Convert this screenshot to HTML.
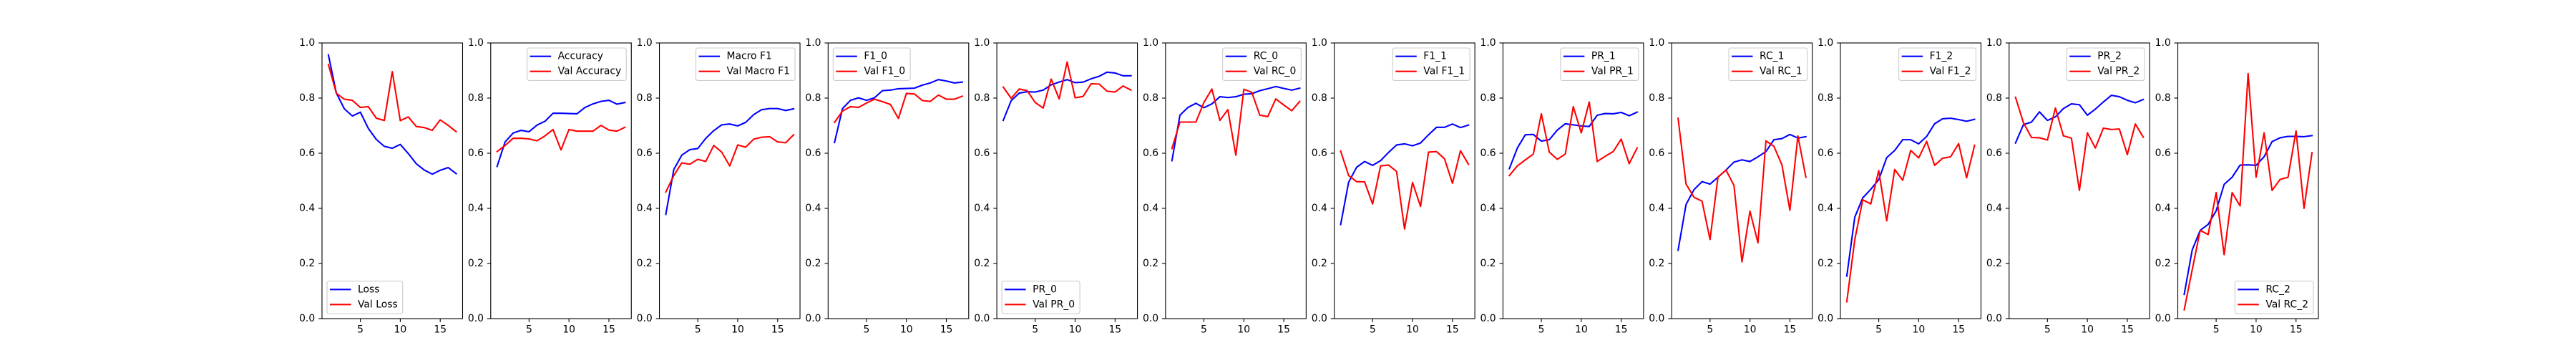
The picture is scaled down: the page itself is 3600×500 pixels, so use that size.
<!DOCTYPE html>
<html><head><meta charset="utf-8"><style>
html,body{margin:0;padding:0;background:#fff;}
svg{display:block;font-family:"DejaVu Sans","Liberation Sans",sans-serif;}
</style></head><body>
<svg id="fig" width="3600" height="500" viewBox="0 0 3600 500" xmlns="http://www.w3.org/2000/svg"></svg>
<script>
const epochs = [1,2,3,4,5,6,7,8,9,10,11,12,13,14,15,16,17];
const yTicks = [0, 0.2, 0.4, 0.6, 0.8, 1.0];
const yTickLabels = ["0.0","0.2","0.4","0.6","0.8","1.0"];
const xTicks = [5, 10, 15];
const xTickLabels = ["5","10","15"];

const panelNames = ["Loss","Accuracy","Macro F1","F1_0","PR_0","RC_0","F1_1","PR_1","RC_1","F1_2","PR_2","RC_2"];
const legendLocs = ["lower left","upper right","upper right","upper left","lower left","upper right","upper right","upper right","upper right","upper right","upper right","lower right"];

const trainLoss = [0.957,0.818,0.761,0.735,0.749,0.690,0.650,0.625,0.618,0.632,0.599,0.562,0.539,0.524,0.538,0.548,0.526];
const valLoss = [0.922,0.817,0.796,0.792,0.766,0.769,0.727,0.719,0.896,0.718,0.732,0.697,0.693,0.683,0.721,0.701,0.678];
const trainAcc = [0.552,0.641,0.673,0.683,0.678,0.702,0.716,0.745,0.745,0.744,0.743,0.766,0.779,0.788,0.792,0.778,0.784];
const valAcc = [0.606,0.628,0.654,0.654,0.652,0.645,0.663,0.686,0.612,0.686,0.680,0.680,0.680,0.701,0.684,0.680,0.694];
const trainMacroF1 = [0.378,0.541,0.593,0.613,0.617,0.654,0.682,0.703,0.706,0.699,0.712,0.740,0.758,0.762,0.762,0.755,0.761];
const valMacroF1 = [0.459,0.519,0.565,0.560,0.578,0.570,0.628,0.604,0.554,0.630,0.622,0.651,0.658,0.660,0.641,0.638,0.667];
const trainF1_0 = [0.639,0.762,0.792,0.801,0.792,0.801,0.827,0.829,0.834,0.835,0.836,0.847,0.855,0.867,0.862,0.855,0.858];
const valF1_0 = [0.712,0.753,0.769,0.766,0.782,0.796,0.787,0.777,0.726,0.817,0.815,0.791,0.788,0.811,0.796,0.796,0.807];
const trainPR_0 = [0.719,0.791,0.818,0.823,0.822,0.829,0.848,0.858,0.867,0.856,0.858,0.870,0.879,0.894,0.891,0.881,0.881];
const valPR_0 = [0.840,0.799,0.833,0.827,0.784,0.764,0.869,0.797,0.931,0.801,0.806,0.852,0.851,0.825,0.822,0.844,0.829];
const trainRC_0 = [0.573,0.738,0.766,0.781,0.765,0.779,0.805,0.802,0.805,0.814,0.816,0.827,0.834,0.842,0.835,0.829,0.836];
const valRC_0 = [0.617,0.713,0.713,0.713,0.784,0.833,0.719,0.758,0.593,0.832,0.821,0.738,0.733,0.797,0.775,0.754,0.788];
const trainF1_1 = [0.341,0.495,0.549,0.570,0.556,0.573,0.603,0.630,0.634,0.627,0.637,0.667,0.694,0.694,0.706,0.693,0.702];
const valF1_1 = [0.608,0.519,0.497,0.496,0.416,0.554,0.557,0.534,0.325,0.494,0.407,0.604,0.606,0.580,0.491,0.609,0.560];
const trainPR_1 = [0.544,0.619,0.667,0.668,0.644,0.649,0.684,0.707,0.703,0.699,0.697,0.738,0.744,0.743,0.748,0.736,0.749];
const valPR_1 = [0.519,0.554,0.576,0.597,0.743,0.604,0.578,0.597,0.769,0.674,0.786,0.570,0.589,0.606,0.651,0.562,0.619];
const trainRC_1 = [0.248,0.414,0.468,0.497,0.488,0.513,0.539,0.568,0.576,0.570,0.587,0.606,0.649,0.653,0.668,0.655,0.660];
const valRC_1 = [0.727,0.488,0.440,0.426,0.287,0.514,0.539,0.483,0.206,0.390,0.275,0.645,0.625,0.558,0.393,0.663,0.513];
const trainF1_2 = [0.154,0.368,0.438,0.469,0.504,0.584,0.610,0.649,0.649,0.634,0.661,0.707,0.725,0.727,0.722,0.716,0.723];
const valF1_2 = [0.061,0.286,0.431,0.416,0.537,0.355,0.541,0.502,0.610,0.583,0.643,0.556,0.582,0.587,0.635,0.511,0.629];
const trainPR_2 = [0.637,0.704,0.713,0.750,0.719,0.732,0.762,0.779,0.776,0.738,0.760,0.786,0.810,0.805,0.792,0.783,0.795];
const valPR_2 = [0.803,0.710,0.657,0.656,0.648,0.764,0.663,0.655,0.465,0.674,0.619,0.691,0.686,0.688,0.595,0.706,0.658];
const trainRC_2 = [0.088,0.249,0.320,0.342,0.391,0.487,0.513,0.557,0.558,0.556,0.587,0.642,0.656,0.661,0.661,0.660,0.664];
const valRC_2 = [0.032,0.177,0.320,0.305,0.457,0.232,0.457,0.409,0.889,0.513,0.674,0.465,0.505,0.513,0.681,0.400,0.602];

const trainSeries = [trainLoss,trainAcc,trainMacroF1,trainF1_0,trainPR_0,trainRC_0,trainF1_1,trainPR_1,trainRC_1,trainF1_2,trainPR_2,trainRC_2];
const valSeries = [valLoss,valAcc,valMacroF1,valF1_0,valPR_0,valRC_0,valF1_1,valPR_1,valRC_1,valF1_2,valPR_2,valRC_2];

const NS = "http://www.w3.org/2000/svg";
const svg = document.getElementById("fig");
const AX_L0 = 450, AX_PITCH = 235.775, AX_W = 196.48, AX_T = 60, AX_B = 445;
const XMIN = 0.2, XMAX = 17.8, YMIN = 0, YMAX = 1;
const FS = 13.9;

function mk(tag, attrs, parent){
  const e = document.createElementNS(NS, tag);
  for (const k in attrs) e.setAttribute(k, attrs[k]);
  (parent||svg).appendChild(e);
  return e;
}
function slug(s){ return s.toLowerCase().replace(/[^a-z0-9]+/g,'-').replace(/-$/,''); }

panelNames.forEach((name, i) => {
  const left = AX_L0 + i*AX_PITCH;
  const xs = v => left + (v - XMIN)/(XMAX - XMIN)*AX_W;
  const ys = v => AX_B - (v - YMIN)/(YMAX - YMIN)*(AX_B - AX_T);
  const g = mk("g", {});
  
  

  // y ticks
  yTicks.forEach((t, j) => {
    const y = ys(t);
    const tk = mk("line", {x1:left-4.9, x2:left, y1:y, y2:y, stroke:"#000", "stroke-width":1.1}, g);
    
    
    const tx = mk("text", {x:left-9.8, y:y, "font-size":FS, "text-anchor":"end", "dominant-baseline":"central", fill:"#000"}, g);
    tx.textContent = yTickLabels[j];
    
    
  });
  // x ticks
  xTicks.forEach((t, j) => {
    const x = xs(t);
    const tk = mk("line", {x1:x, x2:x, y1:AX_B, y2:AX_B+4.9, stroke:"#000", "stroke-width":1.1}, g);
    
    
    const tx = mk("text", {x:x, y:AX_B+9.8, "font-size":FS, "text-anchor":"middle", "dominant-baseline":"hanging", fill:"#000"}, g);
    tx.textContent = xTickLabels[j];
    
    
  });

  // lines
  const mkPath = arr => arr.map((v,k)=>(k?"L":"M")+xs(epochs[k]).toFixed(2)+","+ys(v).toFixed(2)).join("");
  const lt = mk("path", {d:mkPath(trainSeries[i]), fill:"none", stroke:"#0000ff", "stroke-width":2.08, "stroke-linejoin":"round", "stroke-linecap":"square"}, g);
  
  
  const lv = mk("path", {d:mkPath(valSeries[i]), fill:"none", stroke:"#ff0000", "stroke-width":2.08, "stroke-linejoin":"round", "stroke-linecap":"square"}, g);
  
  

  // spines
  const fr = mk("rect", {x:left, y:AX_T, width:AX_W, height:AX_B-AX_T, fill:"none", stroke:"#000", "stroke-width":1.1}, g);
  
  

  // legend
  const lg = mk("g", {}, g);
  
  
  const box = mk("rect", {rx:2.8, ry:2.8, fill:"#fff", "fill-opacity":0.8, stroke:"#cccccc", "stroke-width":1.1}, lg);
  
  
  const labels = [name, "Val " + name];
  const colors = ["#0000ff", "#ff0000"];
  const texts = [], handles = [];
  labels.forEach((lab, k) => {
    const h = mk("line", {stroke:colors[k], "stroke-width":2.08}, lg);
    
    
    const t = mk("text", {"font-size":FS, "dominant-baseline":"central", fill:"#000"}, lg);
    t.textContent = lab;
    
    
    handles.push(h); texts.push(t);
  });
  let tw = 0;
  texts.forEach(t => { try { tw = Math.max(tw, t.getComputedTextLength()); } catch(e){ tw = Math.max(tw, t.textContent.length*8); } });
  const bw = 43 + tw + 7, bh = 45.4;
  const loc = legendLocs[i];
  const bx = loc.indexOf("right")>=0 ? left + AX_W - 7 - bw : left + 7;
  const by = loc.indexOf("upper")>=0 ? AX_T + 7 : AX_B - 7 - bh;
  box.setAttribute("x", bx); box.setAttribute("y", by);
  box.setAttribute("width", bw); box.setAttribute("height", bh);
  [11.7, 32.7].forEach((dy, k) => {
    handles[k].setAttribute("x1", bx + 4); handles[k].setAttribute("x2", bx + 33.5);
    handles[k].setAttribute("y1", by + dy); handles[k].setAttribute("y2", by + dy);
    texts[k].setAttribute("x", bx + 43); texts[k].setAttribute("y", by + dy);
  });
});
</script>
</body></html>
